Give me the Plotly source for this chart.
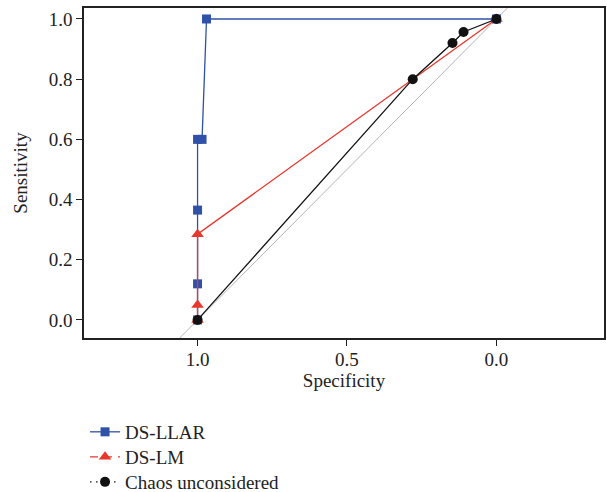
import plotly.graph_objects as go

# ROC points (specificity, sensitivity) for each model
llar_spec = [1.0, 1.0, 1.0, 1.0, 0.985, 0.97, 0.0]
llar_sens = [0.0, 0.12, 0.365, 0.6, 0.6, 1.0, 1.0]

lm_spec = [1.0, 1.0, 1.0, 0.0]
lm_sens = [0.0, 0.05, 0.285, 1.0]

chaos_spec = [1.0, 0.28, 0.147, 0.11, 0.0]
chaos_sens = [0.0, 0.80, 0.92, 0.957, 1.0]

diag = [-0.5, 1.5]

BLUE = "#2F51A8"
RED = "#E8372C"
BLACK = "#111111"
FONT = "Liberation Serif"

fig = go.Figure()

# chance diagonal
fig.add_trace(go.Scatter(x=diag, y=[1 - d for d in diag], mode="lines",
                         line=dict(color="#B4B4B4", width=1), showlegend=False,
                         hoverinfo="skip"))

fig.add_trace(go.Scatter(x=llar_spec, y=llar_sens, mode="lines+markers",
                         line=dict(color=BLUE, width=1.3),
                         marker=dict(symbol="square", size=9, color=BLUE),
                         showlegend=False))
fig.add_trace(go.Scatter(x=lm_spec, y=lm_sens, mode="lines+markers",
                         line=dict(color=RED, width=1.3),
                         marker=dict(symbol="triangle-up", size=11, color=RED),
                         showlegend=False))
fig.add_trace(go.Scatter(x=chaos_spec, y=chaos_sens, mode="lines+markers",
                         line=dict(color=BLACK, width=1.3),
                         marker=dict(symbol="circle", size=10, color=BLACK),
                         showlegend=False))

# legend entries, one legend box per row
fig.add_trace(go.Scatter(x=[None], y=[None], mode="lines+markers", name="DS-LLAR",
                         line=dict(color=BLUE, width=1.3),
                         marker=dict(symbol="square", size=9, color=BLUE),
                         legend="legend"))
fig.add_trace(go.Scatter(x=[None], y=[None], mode="lines+markers", name="DS-LM",
                         line=dict(color=RED, width=1.3, dash="8px,6px"),
                         marker=dict(symbol="triangle-up", size=11, color=RED),
                         legend="legend2"))
fig.add_trace(go.Scatter(x=[None], y=[None], mode="lines+markers", name="Chaos unconsidered",
                         line=dict(color=BLACK, width=1.3, dash="1.5px,4.5px"),
                         marker=dict(symbol="circle", size=10, color=BLACK),
                         legend="legend3"))

axis_common = dict(showline=True, mirror=True, linecolor="#222222", linewidth=1.5,
                   ticks="outside", ticklen=6, tickcolor="#222222", tickwidth=1.2,
                   showgrid=False, zeroline=False, tickformat=".1f",
                   tickfont=dict(family=FONT, size=19, color="#222222"))

legend_common = dict(xanchor="left", yanchor="middle", yref="container",
                     font=dict(family=FONT, size=19, color="#222222"),
                     itemwidth=30, bgcolor="rgba(0,0,0,0)", borderwidth=0)

fig.update_layout(
    width=607, height=492,
    margin=dict(l=84, r=1, t=8, b=154),
    paper_bgcolor="white", plot_bgcolor="white",
    font=dict(family=FONT, size=19, color="#222222"),
    xaxis=dict(range=[1.38, -0.36], tickvals=[1.0, 0.5, 0.0], ticklabelstandoff=-3,
               title=dict(text="Specificity", font=dict(family=FONT, size=19), standoff=4),
               **axis_common),
    yaxis=dict(range=[-0.06, 1.0365], tickvals=[0, 0.2, 0.4, 0.6, 0.8, 1.0],
               title=dict(text="Sensitivity", font=dict(family=FONT, size=19), standoff=16),
               **axis_common),
    legend=dict(x=0.002, y=0.1220, **legend_common),
    legend2=dict(x=0.002, y=0.0711, **legend_common),
    legend3=dict(x=0.002, y=0.0203, **legend_common),
)

fig.write_html("out.html")
